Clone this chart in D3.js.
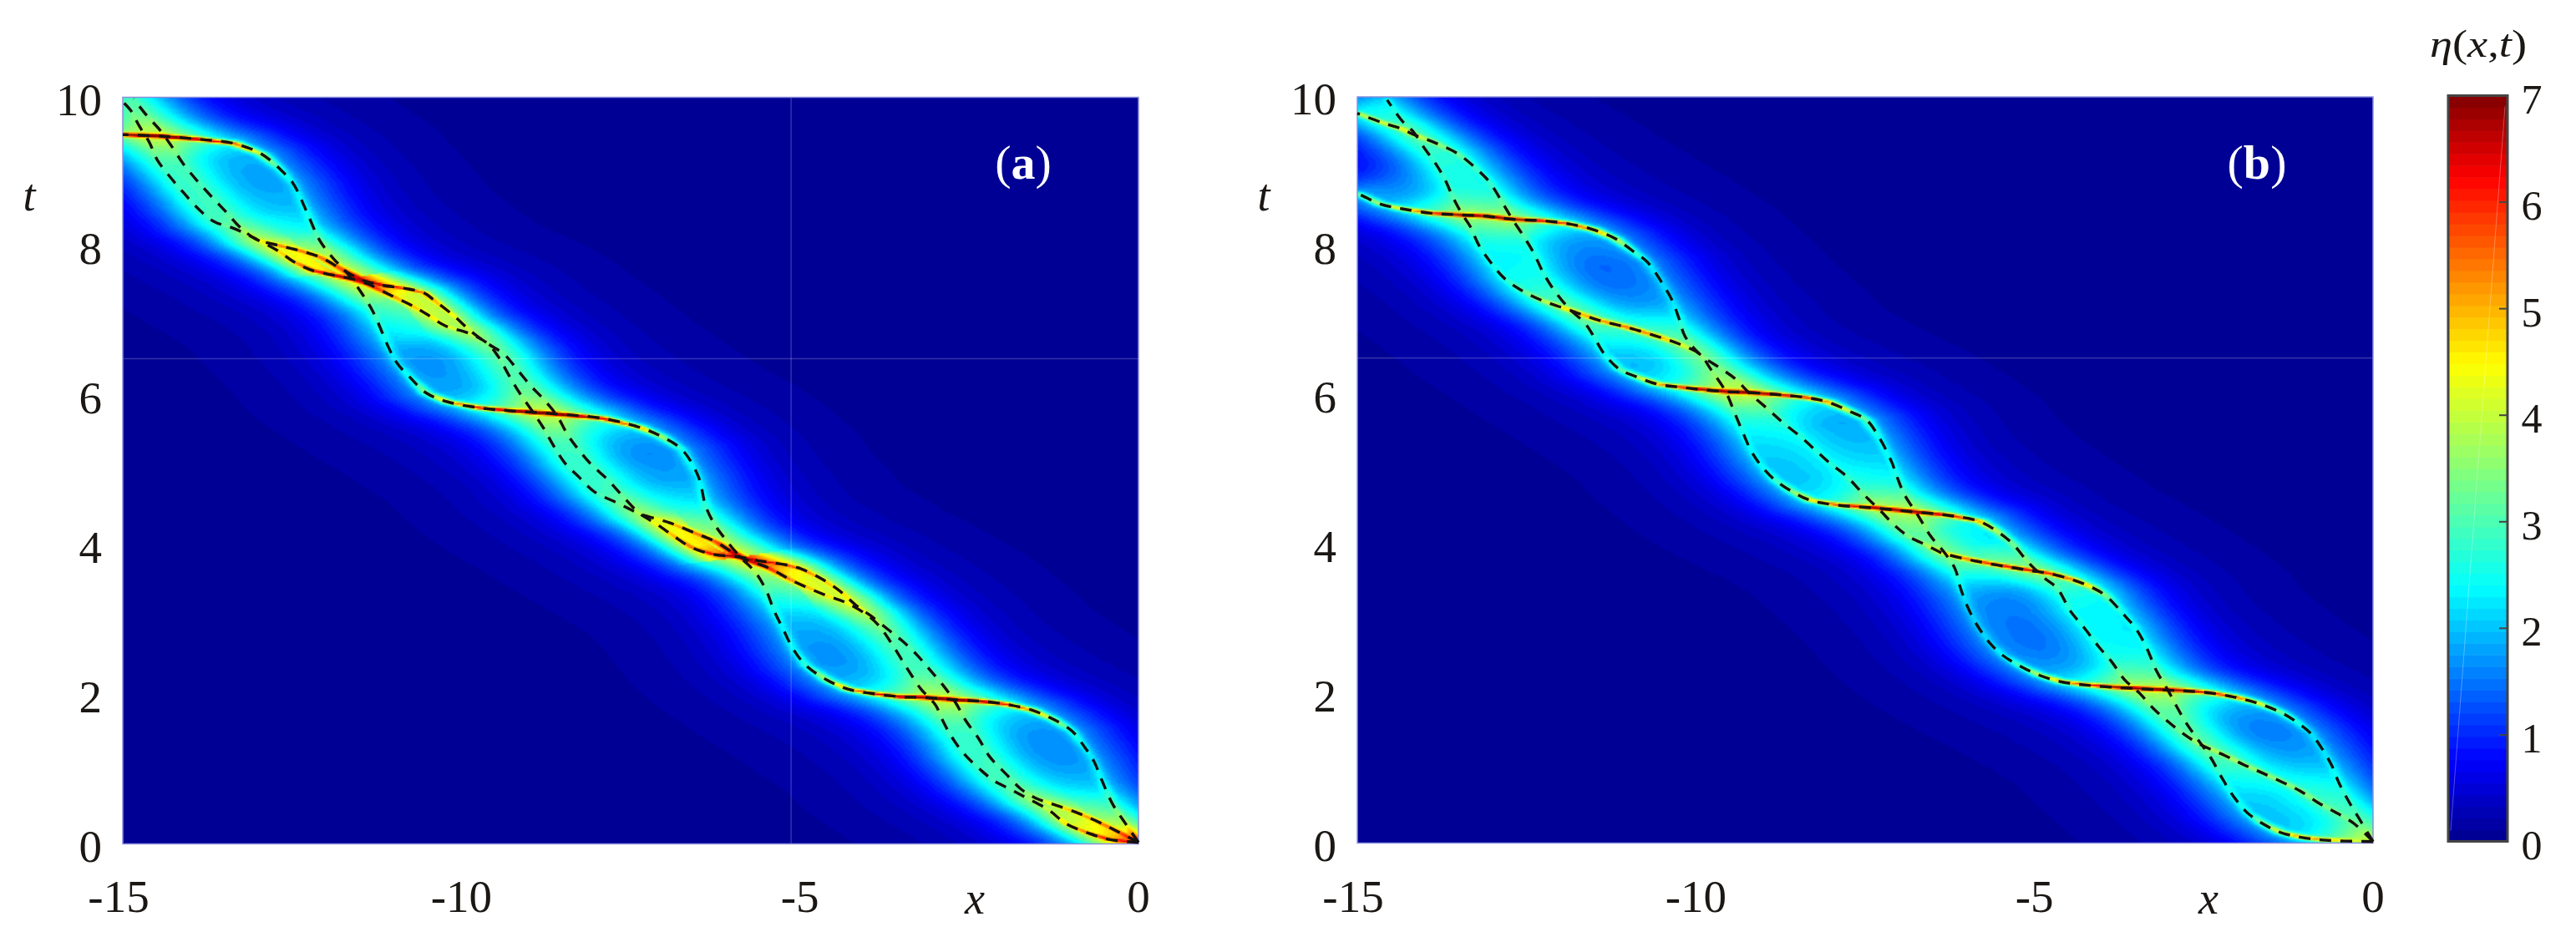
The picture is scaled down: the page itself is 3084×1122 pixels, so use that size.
<!DOCTYPE html>
<html>
<head>
<meta charset="utf-8">
<script src="https://cdn.jsdelivr.net/npm/d3@7"></script>
<style>
html,body{margin:0;padding:0;background:#fff}
svg{display:block}
text{font-family:"Liberation Serif",serif;fill:#1a1714}
</style>
</head>
<body>
<svg id="chart" width="3084" height="1122"></svg>
<script>
const xTicks = [-15, -10, -5, 0];
const tTicks = [0, 2, 4, 6, 8, 10];
const barTicks = [0, 1, 2, 3, 4, 5, 6, 7];

// ridges: x, t, peak height above the halo
const aRidge1 = [[0,.02,3],[-.19,.27,1.5],[-.38,.53,1.1],[-.54,.85,1],[-.66,1.11,1],[-.79,1.29,1.1],[-.98,1.51,1.5],[-1.26,1.67,2.5],[-1.57,1.79,3.5],[-1.95,1.87,4.2],[-2.33,1.91,4.5],[-2.7,1.93,4.5],[-3.15,1.96,4.5],[-3.52,1.97,4.5],[-3.9,2.01,4.4],[-4.28,2.07,3.6],[-4.59,2.19,2.5],[-4.91,2.39,1.5],[-5.1,2.61,1.1],[-5.25,2.88,1],[-5.38,3.12,1],[-5.5,3.4,1],[-5.66,3.64,1],[-5.88,3.84,1],[-6.1,4.08,1],[-6.26,4.28,1],[-6.39,4.52,1],[-6.5,4.92,1],[-6.74,5.28,1.4],[-7.05,5.46,2.5],[-7.37,5.58,3.5],[-7.92,5.7,4.4],[-8.63,5.76,4.5],[-9.26,5.8,4.5],[-9.73,5.84,4.3],[-10.2,5.92,3.4],[-10.52,6.04,2.2],[-10.75,6.24,1.3],[-10.95,6.44,1],[-11.07,6.64,1],[-11.3,7.12,1],[-11.46,7.36,1],[-11.7,7.66,1],[-11.89,7.84,1],[-12.09,8.08,1],[-12.29,8.48,1],[-12.48,8.84,1],[-12.68,9.04,1.5],[-12.95,9.24,2.6],[-13.35,9.38,4],[-13.9,9.44,4.5],[-14.45,9.48,4.5],[-15,9.5,4.5]];
const aRidge2 = [[0,.02,3],[-.32,.17,2.6],[-.63,.31,2.6],[-.94,.43,2.4],[-1.26,.53,2],[-1.51,.61,1.4],[-1.73,.73,.9],[-1.95,.93,.8],[-2.2,1.17,.8],[-2.36,1.41,.8],[-2.55,1.65,.8],[-2.7,1.89,.8],[-2.89,2.13,.8],[-3.08,2.33,.8],[-3.27,2.53,.8],[-3.49,2.72,.8],[-3.71,2.88,1],[-3.96,3.06,1.6],[-4.15,3.18,2],[-4.4,3.38,2.4],[-4.66,3.54,2.6],[-4.97,3.68,3],[-5.22,3.74,3.2],[-5.6,3.79,3.4],[-5.88,3.84,3.5],[-6.29,3.88,3.5],[-6.6,3.97,3],[-6.86,4.12,2.5],[-7.11,4.28,2],[-7.36,4.42,1.2],[-7.6,4.64,.9],[-7.84,4.88,.8],[-8.08,5.08,.8],[-8.27,5.28,.8],[-8.43,5.48,.8],[-8.59,5.74,.8],[-8.79,5.96,.8],[-8.98,6.14,.8],[-9.18,6.36,.8],[-9.37,6.56,.9],[-9.61,6.7,1.1],[-9.85,6.86,1.6],[-10.12,7.08,2.2],[-10.4,7.28,2.8],[-10.55,7.38,3.2],[-10.83,7.44,3.4],[-11.15,7.48,3.6],[-11.46,7.55,3.6],[-11.77,7.7,2.5],[-12.09,7.86,2.5],[-12.4,7.95,2.6],[-12.72,8.02,2.6],[-13.03,8.1,1.6],[-13.27,8.26,1],[-13.47,8.46,.8],[-13.7,8.68,.8],[-13.9,8.88,.8],[-14.1,9.1,.8],[-14.29,9.36,.8],[-14.45,9.56,.8],[-14.65,9.76,.8],[-14.84,9.98,.8]];
const aRidge3 = [[0,.02,3],[-.44,.06,3.4],[-.76,.15,3],[-1.07,.27,2.4],[-1.32,.45,1.6],[-1.64,.61,1.2],[-1.89,.73,.8],[-2.14,.85,.8],[-2.33,.99,.8],[-2.58,1.21,.8],[-2.77,1.45,.8],[-2.89,1.65,.8],[-2.99,1.85,.8],[-3.08,1.95,.8],[-3.21,2.07,.8],[-3.43,2.37,.8],[-3.65,2.69,.8],[-3.84,2.93,1.1],[-4.03,3.08,1.6],[-4.34,3.24,2],[-4.59,3.32,2.2],[-5.1,3.52,2.6],[-5.47,3.7,3],[-5.88,3.84,3.5],[-6.23,4.04,2.8],[-6.54,4.16,2.6],[-6.92,4.3,2.2],[-7.36,4.42,1.2],[-7.68,4.56,.9],[-8.04,4.72,.8],[-8.27,4.92,.8],[-8.47,5.1,.8],[-8.63,5.32,.8],[-8.78,5.56,.8],[-8.94,5.78,.8],[-9.14,6.04,.8],[-9.3,6.28,.8],[-9.45,6.52,.9],[-9.61,6.7,1.1],[-9.89,6.84,1.6],[-10.24,6.94,2],[-10.52,7.1,2.2],[-10.75,7.22,2.4],[-11.07,7.36,2.6],[-11.38,7.5,3],[-11.58,7.56,3.4],[-11.85,7.61,3.6],[-12.2,7.68,3.4],[-12.48,7.8,2.6],[-12.72,7.95,2],[-13.03,8.1,1.4],[-13.35,8.24,.9],[-13.66,8.34,.8],[-13.9,8.52,.8],[-14.1,8.72,.8],[-14.29,8.92,.8],[-14.49,9.16,.8],[-14.61,9.4,.8],[-14.76,9.62,.8],[-14.88,9.82,.8],[-15,9.94,.8]];

const bRidge1 = [[0,.02,0],[-.2,.32,.6],[-.36,.56,.9],[-.5,.8,.9],[-.61,1.04,.9],[-.75,1.26,.9],[-.92,1.47,1],[-1.11,1.61,1.4],[-1.36,1.75,2],[-1.69,1.87,3],[-2.02,1.95,4],[-2.4,2.01,4.2],[-2.79,2.04,4.4],[-3.06,2.05,4.4],[-3.5,2.07,4.4],[-3.89,2.09,4.4],[-4.27,2.12,4],[-4.6,2.16,3.4],[-4.93,2.25,2.6],[-5.21,2.37,1.8],[-5.46,2.51,1.2],[-5.65,2.67,1],[-5.84,2.91,.9],[-5.98,3.15,.9],[-6.09,3.41,.9],[-6.17,3.67,.9],[-6.31,3.87,.9],[-6.53,4.11,.9],[-6.72,4.39,.9],[-6.92,4.67,.9],[-7.03,4.91,.9],[-7.11,5.11,.9],[-7.29,5.43,1.1],[-7.48,5.67,1.8],[-7.74,5.79,2.6],[-8.05,5.91,3.6],[-8.37,5.97,4.2],[-8.8,6.01,4.4],[-9.25,6.04,4.4],[-9.56,6.05,4.4],[-9.94,6.08,4.4],[-10.25,6.11,4],[-10.57,6.15,3.4],[-10.88,6.25,2.4],[-11.13,6.35,1.6],[-11.35,6.55,1],[-11.51,6.79,.9],[-11.64,6.97,.9],[-11.86,7.15,.9],[-12.11,7.43,.9],[-12.27,7.67,.9],[-12.39,7.9,.9],[-12.55,8.14,.9],[-12.71,8.36,.9],[-12.83,8.54,.9],[-13.05,8.86,1],[-13.27,9.06,1.1],[-13.52,9.24,1.3],[-13.84,9.38,1.6],[-14.18,9.5,2],[-14.34,9.57,2.2],[-14.65,9.66,2.2],[-15,9.78,2.2]];
const bRidge2 = [[0,.02,0],[-.28,.26,.6],[-.53,.4,1.1],[-.81,.54,1.3],[-1.08,.7,1.5],[-1.35,.82,1.6],[-1.66,.95,1.6],[-1.91,1.05,1.6],[-2.18,1.17,1.6],[-2.57,1.33,1.4],[-2.81,1.47,1.1],[-3.03,1.63,1],[-3.23,1.79,.9],[-3.45,2.01,.9],[-3.67,2.19,.9],[-3.86,2.43,.9],[-4.05,2.63,.9],[-4.27,2.89,.9],[-4.47,3.11,.9],[-4.66,3.41,1],[-4.85,3.55,1.1],[-5.1,3.77,1.2],[-5.32,4.01,1.6],[-5.54,4.17,2.2],[-5.81,4.31,3.4],[-6.26,4.39,4.2],[-6.81,4.44,4.4],[-7.36,4.49,4.2],[-7.92,4.53,3.8],[-8.3,4.59,3],[-8.58,4.71,2],[-8.84,4.87,1.4],[-9.03,5.05,1],[-9.18,5.25,.9],[-9.31,5.51,.9],[-9.43,5.77,.9],[-9.56,6.05,.9],[-9.78,6.35,.9],[-9.94,6.55,1.1],[-10.25,6.69,2],[-10.57,6.79,3],[-11.01,6.91,3.4],[-11.45,7.01,3],[-11.89,7.15,2.4],[-12.27,7.27,1.8],[-12.58,7.41,1.3],[-12.83,7.57,1],[-13.02,7.77,.9],[-13.21,8.02,.9],[-13.33,8.26,.9],[-13.46,8.44,.9],[-13.59,8.66,.9],[-13.71,8.9,.9],[-13.84,9.1,.9],[-14,9.3,.9],[-14.18,9.54,.9],[-14.34,9.68,.9],[-14.56,9.96,.9]];
const bRidge3 = [[0,.02,0],[-.75,.04,3],[-1.08,.08,3.4],[-1.36,.14,2.8],[-1.63,.26,2],[-1.85,.4,1.2],[-2.04,.6,1],[-2.21,.84,.9],[-2.4,1.15,.9],[-2.59,1.39,.9],[-2.76,1.61,.9],[-2.9,1.83,.9],[-3.03,2.05,.9],[-3.2,2.31,.9],[-3.34,2.61,.9],[-3.5,2.87,.9],[-3.69,3.07,1],[-3.94,3.31,1.6],[-4.16,3.43,2.6],[-4.44,3.53,3.4],[-4.77,3.61,3.8],[-5.04,3.65,4],[-5.32,3.69,4],[-5.7,3.75,3.6],[-6.03,3.81,3],[-6.37,3.89,2],[-6.59,3.99,1.4],[-6.86,4.11,1.1],[-7.08,4.27,.9],[-7.27,4.45,.9],[-7.52,4.67,.9],[-7.77,4.91,.9],[-8.02,5.09,.9],[-8.24,5.27,.9],[-8.46,5.45,.9],[-8.71,5.63,.9],[-8.93,5.81,.9],[-9.21,6.03,.9],[-9.43,6.23,.9],[-9.65,6.37,.9],[-9.94,6.55,1],[-10.16,6.79,.9],[-10.25,7.03,.9],[-10.35,7.27,.9],[-10.53,7.55,1],[-10.72,7.79,1.2],[-10.94,7.94,1.8],[-11.19,8.1,2.8],[-11.51,8.22,3.8],[-11.89,8.3,4.2],[-12.27,8.34,4.4],[-12.71,8.36,4.4],[-13.08,8.4,4.4],[-13.52,8.42,4.4],[-13.9,8.44,4],[-14.34,8.5,3],[-14.65,8.56,2.4],[-14.94,8.68,2],[-15,8.7,2]];

const panels = [
  {left: 147, right: 1363, top: 116.5, bottom: 1010.5, tag: "a", tagX: 1225, tX: 35, xX: 1167, ridges: [aRidge1, aRidge2, aRidge3], seam: [-5.13, 6.5]},
  {left: 1625, right: 2841, top: 116, bottom: 1009.5, tag: "b", tagX: 2702, tX: 1513, xX: 2644, ridges: [bRidge1, bRidge2, bRidge3], seam: [null, 6.5]}
];

const bar = {left: 2931, right: 3002, top: 114.5, bottom: 1007.5};

// jet colormap with the 64 steps the colour bar shows
const jet = d3.scaleLinear()
  .domain([0, 0.11, 0.34, 0.64, 0.89, 1])
  .range(["#00008c", "#0000ff", "#00ffff", "#ffff00", "#ff0000", "#800000"]);
const colour = d3.scaleQuantize().domain([0, 7]).range(d3.range(64).map(i => jet((i + 0.5) / 64)));

const svg = d3.select("#chart");

// kernel widths, in x units; t is stretched because ridges are thin along t
const tStretch = 3.5, ridgeW = 0.09, peakDrop = 0.5, lensGain = 0.7;

function nearest(ridge, x, t) {
  let best = 1e9, peak = 0;
  for (let i = 0; i < ridge.length - 1; i++) {
    const a = ridge[i], b = ridge[i + 1];
    const ux = b[0] - a[0], ut = (b[1] - a[1]) * tStretch;
    const px = x - a[0], pt = (t - a[1]) * tStretch;
    let s = (px * ux + pt * ut) / (ux * ux + ut * ut);
    s = s < 0 ? 0 : s > 1 ? 1 : s;
    const dx = px - s * ux, dt = pt - s * ut;
    const d = dx * dx + dt * dt;
    if (d < best) { best = d; peak = a[2] + s * (b[2] - a[2]); }
  }
  return [Math.sqrt(best), Math.max(peak - peakDrop, 0)];
}

function halo(d) {
  return 0.8 * Math.exp(-Math.pow(d / 0.8, 1.6)) + 0.55 * Math.exp(-d / 1.3);
}

function fieldAt(ridges, x, t) {
  const near = ridges.map(r => nearest(r, x, t)).sort((a, b) => a[0] - b[0]);
  let v = 0, top = 0;
  near.forEach(([d, peak]) => {
    const c = Math.cosh(d / ridgeW);
    top = Math.max(top, peak / (c * c));
    v += halo(d);
  });
  // two ridges running close together fill the space between them
  const gap = (near[0][0] + near[1][0]) / 0.9;
  const lens = lensGain * Math.min(near[0][1], near[1][1]) * Math.exp(-gap * gap);
  return v + Math.max(top, lens);
}

function drawField(p, x, y) {
  const w = Math.round((p.right - p.left) / 2), h = Math.round((p.bottom - p.top) / 2);
  const canvas = document.createElement("canvas");
  canvas.width = w; canvas.height = h;
  const ctx = canvas.getContext("2d");
  const img = ctx.createImageData(w, h);
  for (let j = 0; j < h; j++) {
    const t = y.invert(p.top + (j + 0.5) * 2);
    for (let i = 0; i < w; i++) {
      const c = d3.rgb(colour(Math.min(fieldAt(p.ridges, x.invert(p.left + (i + 0.5) * 2), t), 6.99)));
      const k = (j * w + i) * 4;
      img.data[k] = c.r; img.data[k + 1] = c.g; img.data[k + 2] = c.b; img.data[k + 3] = 255;
    }
  }
  ctx.putImageData(img, 0, 0);
  svg.append("image")
    .attr("x", p.left).attr("y", p.top)
    .attr("width", p.right - p.left).attr("height", p.bottom - p.top)
    .attr("preserveAspectRatio", "none")
    .attr("href", canvas.toDataURL());
}

panels.forEach(p => {
  const x = d3.scaleLinear().domain([-15, 0]).range([p.left, p.right]);
  const y = d3.scaleLinear().domain([0, 10]).range([p.bottom, p.top]);

  drawField(p, x, y);

  // faint seams that run across the original image
  if (p.seam[0] !== null) {
    svg.append("line").attr("x1", x(p.seam[0])).attr("x2", x(p.seam[0])).attr("y1", p.top).attr("y2", p.bottom)
      .attr("stroke", "#fff").attr("stroke-opacity", 0.2).attr("stroke-width", 1.5);
  }
  svg.append("line").attr("x1", p.left).attr("x2", p.right).attr("y1", y(p.seam[1])).attr("y2", y(p.seam[1]))
    .attr("stroke", "#fff").attr("stroke-opacity", 0.2).attr("stroke-width", 1.5);

  svg.append("rect").attr("x", p.left).attr("y", p.top)
    .attr("width", p.right - p.left).attr("height", p.bottom - p.top)
    .attr("fill", "none").attr("stroke", "#8a8fdc").attr("stroke-width", 1.5);

  const line = d3.line().x(d => x(d[0])).y(d => y(d[1])).curve(d3.curveCatmullRom);
  p.ridges.forEach(r => {
    svg.append("path").attr("d", line(r))
      .attr("fill", "none").attr("stroke", "#141210").attr("stroke-width", 3.4)
      .attr("stroke-dasharray", "14 11");
  });

  xTicks.forEach(v => {
    svg.append("text").attr("x", x(v) + (v === -15 ? -5 : 0)).attr("y", 1092)
      .attr("text-anchor", "middle").attr("font-size", 55).text(v);
  });
  tTicks.forEach(v => {
    svg.append("text").attr("x", p.left - 25).attr("y", y(v) + 21)
      .attr("text-anchor", "end").attr("font-size", 55).text(v);
  });

  svg.append("text").attr("x", p.xX).attr("y", 1094).attr("text-anchor", "middle")
    .attr("font-size", 54).attr("font-style", "italic").text("x");
  svg.append("text").attr("x", p.tX).attr("y", 252).attr("text-anchor", "middle")
    .attr("font-size", 54).attr("font-style", "italic").text("t");

  const tag = svg.append("text").attr("x", p.tagX).attr("y", 214).attr("text-anchor", "middle")
    .attr("font-size", 58).style("fill", "#fff");
  tag.append("tspan").text("(");
  tag.append("tspan").attr("font-weight", "bold").text(p.tag);
  tag.append("tspan").text(")");
});

// colour bar
const barY = d3.scaleLinear().domain([0, 7]).range([bar.bottom, bar.top]);
svg.selectAll(".band").data(colour.range()).enter().append("rect")
  .attr("x", bar.left).attr("width", bar.right - bar.left)
  .attr("y", (d, i) => barY((i + 1) * 7 / 64))
  .attr("height", (bar.bottom - bar.top) / 64 + 0.6)
  .attr("fill", d => d);
svg.append("line").attr("x1", bar.left + 3).attr("y1", barY(0.1)).attr("x2", bar.right - 3).attr("y2", barY(6.9))
  .attr("stroke", "#fff").attr("stroke-opacity", 0.3).attr("stroke-width", 1);
barTicks.filter(v => v > 0 && v < 7).forEach(v => {
  svg.append("line").attr("x1", bar.right - 10).attr("x2", bar.right).attr("y1", barY(v)).attr("y2", barY(v))
    .attr("stroke", "#444").attr("stroke-width", 2);
});
svg.append("rect").attr("x", bar.left).attr("y", bar.top)
  .attr("width", bar.right - bar.left).attr("height", bar.bottom - bar.top)
  .attr("fill", "none").attr("stroke", "#444").attr("stroke-width", 3);
barTicks.forEach(v => {
  svg.append("text").attr("x", 3031).attr("y", barY(v) + 21)
    .attr("text-anchor", "middle").attr("font-size", 50).text(v);
});
const eta = svg.append("text").attr("x", 2909).attr("y", 68)
  .attr("font-size", 46).attr("textLength", 116).attr("lengthAdjust", "spacingAndGlyphs");
eta.append("tspan").attr("font-style", "italic").text("η");
eta.append("tspan").text("(");
eta.append("tspan").attr("font-style", "italic").text("x");
eta.append("tspan").text(",");
eta.append("tspan").attr("font-style", "italic").text("t");
eta.append("tspan").text(")");
</script>
</body>
</html>
